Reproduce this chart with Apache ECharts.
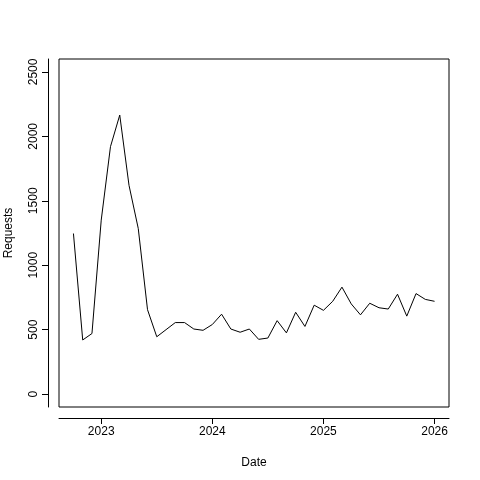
<!DOCTYPE html>
<html><head><meta charset="utf-8">
<script src="https://cdn.jsdelivr.net/npm/echarts@6/dist/echarts.min.js"></script>
<style>html,body{margin:0;background:#fff}#c{width:480px;height:480px}</style>
</head><body><div id="c"></div>
<script>
const startYear = 2022, startMonth = 10;
const requests = [1246,420,470,1350,1920,2165,1620,1285,655,445,500,555,555,505,495,540,620,505,480,505,425,435,570,475,635,525,690,650,720,830,700,615,705,670,660,775,605,780,735,720];
const xTicks = [2023,2024,2025,2026];
const yTicks = [0,500,1000,1500,2000,2500];

const data = requests.map((v,i)=>{
  const m = startMonth - 1 + i;
  return [startYear + m/12, v];
});
const font = 'Liberation Sans, Arial, sans-serif';
const chart = echarts.init(document.getElementById('c'));
chart.setOption({
  animation:false,
  grid:{left:59,right:31,top:59,bottom:73,show:true,borderColor:'#000',borderWidth:1,containLabel:false,outerBoundsMode:'none'},
  xAxis:{type:'value',min:2022.62,max:2026.13,offset:11,
    name:'Date',nameLocation:'middle',nameGap:39,nameTextStyle:{fontFamily:font,fontSize:12,color:'#000'},
    axisLine:{show:true,onZero:false,lineStyle:{color:'#000'}},
    axisTick:{show:true,length:6,customValues:xTicks,lineStyle:{color:'#000'}},
    axisLabel:{customValues:xTicks,fontFamily:font,fontSize:12,color:'#000',margin:8,formatter:v=>String(Math.round(v))},
    splitLine:{show:false}},
  yAxis:{type:'value',min:-100,max:2600,offset:11,
    name:'Requests',nameLocation:'middle',nameGap:33,nameTextStyle:{fontFamily:font,fontSize:12,color:'#000'},
    axisLine:{show:true,onZero:false,lineStyle:{color:'#000'}},
    axisTick:{show:true,length:6,customValues:yTicks,lineStyle:{color:'#000'}},
    axisLabel:{customValues:yTicks,rotate:90,fontFamily:font,fontSize:12,color:'#000',margin:8,formatter:v=>String(v)},
    splitLine:{show:false}},
  series:[{type:'line',data:data,symbol:'none',lineStyle:{color:'#000',width:1}}]
});
</script></body></html>
